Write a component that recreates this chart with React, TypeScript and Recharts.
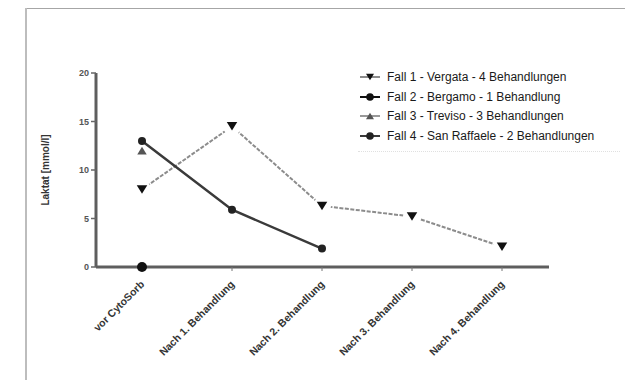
import React from 'react';
import { LineChart, Line, XAxis, YAxis, Label } from 'recharts';

const categories = [
  'vor CytoSorb',
  'Nach 1. Behandlung',
  'Nach 2. Behandlung',
  'Nach 3. Behandlung',
  'Nach 4. Behandlung',
];

// Laktat in mmol/l per Zeitpunkt
const fall1 = [8, 14.5, 6.3, 5.2, 2.1];
const fall2 = [0, null, null, null, null];
const fall3 = [12, null, null, null, null];
const fall4 = [13, 5.9, 1.9, null, null];

const seriesNames = [
  'Fall 1 - Vergata - 4 Behandlungen',
  'Fall 2 - Bergamo - 1 Behandlung',
  'Fall 3 - Treviso - 3 Behandlungen',
  'Fall 4 - San Raffaele - 2 Behandlungen',
];

const yTicks = [0, 5, 10, 15, 20];

const data = categories.map((name, i) => ({
  name,
  fall1: fall1[i],
  fall2: fall2[i],
  fall3: fall3[i],
  fall4: fall4[i],
}));

type Shape = 'down' | 'up' | 'circle';

const series: { key: string; name: string; shape: Shape; color: string; line: string }[] = [
  { key: 'fall1', name: seriesNames[0], shape: 'down', color: '#111', line: '#8c8c8c' },
  { key: 'fall2', name: seriesNames[1], shape: 'circle', color: '#111', line: '#111' },
  { key: 'fall3', name: seriesNames[2], shape: 'up', color: '#555', line: '#999' },
  { key: 'fall4', name: seriesNames[3], shape: 'circle', color: '#222', line: '#3a3a3a' },
];

const FONT = 'Liberation Sans, Arial, sans-serif';

function Marker({ shape, cx, cy, fill, r = 4.5 }: { shape: Shape; cx: number; cy: number; fill: string; r?: number }) {
  if (shape === 'circle') return <circle cx={cx} cy={cy} r={r} fill={fill} />;
  const h = r * 1.7;
  const w = r * 1.05;
  const pts =
    shape === 'down'
      ? `${cx - w},${cy - h / 2} ${cx + w},${cy - h / 2} ${cx},${cy + h / 2}`
      : `${cx - w},${cy + h / 2} ${cx + w},${cy + h / 2} ${cx},${cy - h / 2}`;
  return <polygon points={pts} fill={fill} />;
}

const makeDot = (shape: Shape, fill: string, halo: boolean, r?: number) => (props: any) => {
  const { cx, cy, index } = props;
  if (cx == null || cy == null || Number.isNaN(cy)) return <g key={`d-${index}`} />;
  return (
    <g key={`d-${index}`}>
      {halo && <circle cx={cx} cy={cy} r={9} fill="#fff" />}
      <Marker shape={shape} cx={cx} cy={cy} fill={fill} r={r} />
    </g>
  );
};

const XTick = (props: any) => {
  const { x, y, payload } = props;
  const tx = x + 3;
  const ty = y + 12;
  return (
    <text
      x={tx}
      y={ty}
      transform={`rotate(-45, ${tx}, ${ty})`}
      textAnchor="end"
      fontSize={10.5}
      fontWeight="bold"
      fill="#333"
      fontFamily={FONT}
    >
      {payload.value}
    </text>
  );
};

function LegendBox() {
  return (
    <div
      style={{
        position: 'absolute',
        left: 358,
        top: 67,
        width: 262,
        fontFamily: FONT,
        fontSize: 12,
        color: '#1a1a1a',
        borderBottom: '1px dotted #e0e0e0',
        paddingBottom: 5,
      }}
    >
      {series.map((s) => (
        <div key={s.key} style={{ display: 'flex', alignItems: 'center', height: 19.7 }}>
          <svg width={29} height={12} style={{ flex: 'none' }}>
            <line x1={2} y1={6} x2={22} y2={6} stroke={s.line} strokeWidth={2} />
            <Marker shape={s.shape} cx={12} cy={6} fill={s.color} r={3.8} />
          </svg>
          <span style={{ whiteSpace: 'nowrap' }}>{s.name}</span>
        </div>
      ))}
    </div>
  );
}

export default function App() {
  return (
    <div style={{ position: 'relative', width: 633, height: 388, margin: -8, background: '#fff', overflow: 'hidden' }}>
      {/* Rahmen oben und links */}
      <div style={{ position: 'absolute', left: 25, top: 7, width: 608, height: 1.5, background: '#a6a6a6' }} />
      <div style={{ position: 'absolute', left: 25, top: 7, width: 2, height: 381, background: '#bdbdbd' }} />
      <LineChart
        width={633}
        height={388}
        data={data}
        margin={{ top: 73, right: 84, left: 50, bottom: 0 }}
        style={{ position: 'absolute', left: 0, top: 0 }}
      >
        <XAxis
          dataKey="name"
          height={121}
          padding={{ left: 46, right: 47 }}
          axisLine={{ stroke: '#5e5e5e', strokeWidth: 3 }}
          tickLine={{ stroke: '#777', strokeWidth: 1 }}
          tickSize={4}
          interval={0}
          tick={<XTick />}
        />
        <YAxis
          width={46}
          domain={[0, 20]}
          ticks={yTicks}
          axisLine={{ stroke: '#5e5e5e', strokeWidth: 3 }}
          tickLine={{ stroke: '#666', strokeWidth: 1.5 }}
          tickSize={5}
          tick={{ fontSize: 9, fontWeight: 'bold', fill: '#555', fontFamily: FONT }}
        >
          <Label
            content={() => (
              <text
                x={45}
                y={170}
                transform="rotate(-90, 45, 170)"
                textAnchor="middle"
                dominantBaseline="central"
                fontSize={10}
                fontWeight="bold"
                fill="#333"
                fontFamily={FONT}
              >
                Laktat [mmol/l]
              </text>
            )}
          />
        </YAxis>
        <Line
          dataKey="fall1"
          name={seriesNames[0]}
          stroke="#8c8c8c"
          strokeWidth={2}
          strokeDasharray="4 1.5"
          dot={makeDot('down', '#111', true, 5)}
          activeDot={false}
          connectNulls={false}
          isAnimationActive={false}
        />
        <Line
          dataKey="fall4"
          name={seriesNames[3]}
          stroke="#3a3a3a"
          strokeWidth={2.5}
          dot={makeDot('circle', '#222', false, 4)}
          activeDot={false}
          isAnimationActive={false}
        />
        <Line
          dataKey="fall2"
          name={seriesNames[1]}
          stroke="#111"
          dot={makeDot('circle', '#111', false, 5)}
          activeDot={false}
          isAnimationActive={false}
        />
        <Line
          dataKey="fall3"
          name={seriesNames[2]}
          stroke="#999"
          dot={makeDot('up', '#555', false, 4.5)}
          activeDot={false}
          isAnimationActive={false}
        />
      </LineChart>
      <LegendBox />
    </div>
  );
}
